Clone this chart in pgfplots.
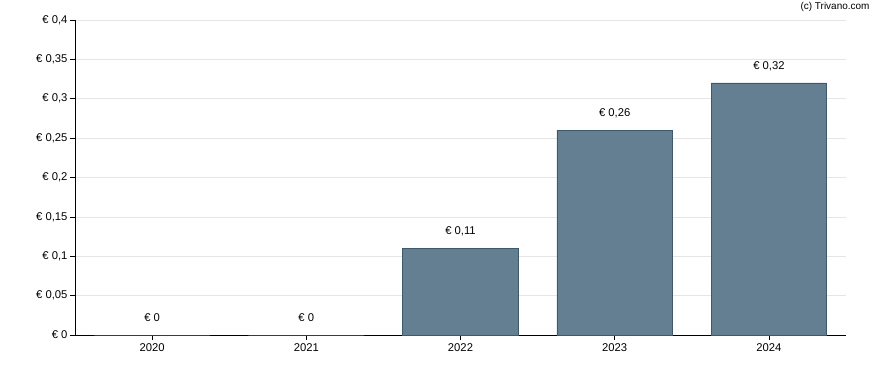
\documentclass[border=0pt]{standalone}
\usepackage{pgfplots}
\pgfplotsset{compat=1.18}
\usepackage{fontspec}
\setmainfont{Liberation Sans}
\definecolor{barfill}{HTML}{657F92}
\definecolor{baredge}{HTML}{3E586C}
\definecolor{gridc}{HTML}{E6E6E6}
\begin{document}
\begin{tikzpicture}
\begin{axis}[
  at={(0,0)}, anchor=south west,
  scale only axis,
  width=771bp, height=315bp,
  xmin=-0.5, xmax=4.5,
  ymin=0, ymax=0.4,
  ytick={0,0.05,0.1,0.15,0.2,0.25,0.3,0.35,0.4},
  yticklabels={€ 0,€ 0{,}05,€ 0{,}1,€ 0{,}15,€ 0{,}2,€ 0{,}25,€ 0{,}3,€ 0{,}35,€ 0{,}4},
  xtick={0,1,2,3,4},
  xticklabels={2020,2021,2022,2023,2024},
  axis x line*=bottom,
  axis y line*=left,
  ymajorgrids,
  grid style={gridc, line width=0.6pt},
  tick style={black, line width=0.6pt},
  major tick length=5bp,
  tick align=outside,
  axis line style={black, line width=0.8pt},
  ticklabel style={font=\fontsize{11.3}{13}\selectfont, text=black},
  yticklabel style={xshift=1bp},
  ybar, bar width=0.75,
  point meta=explicit symbolic,
  nodes near coords,
  every node near coord/.append style={anchor=center, yshift=17bp, font=\fontsize{11.3}{13}\selectfont, text=black},
  clip=false,
]
\addplot[fill=barfill, draw=baredge, line width=0.6pt] coordinates {
  (0,0) [€ 0] (1,0) [€ 0] (2,0.11) [€ 0{,}11] (3,0.26) [€ 0{,}26] (4,0.32) [€ 0{,}32]
};
\end{axis}
\node[font=\fontsize{10}{12}\selectfont, anchor=center] at (760bp,328bp) {(c) Trivano.com};
\pgfresetboundingbox
\path[use as bounding box] (-75bp,-35bp) rectangle (813bp,335bp);
\end{tikzpicture}
\end{document}
